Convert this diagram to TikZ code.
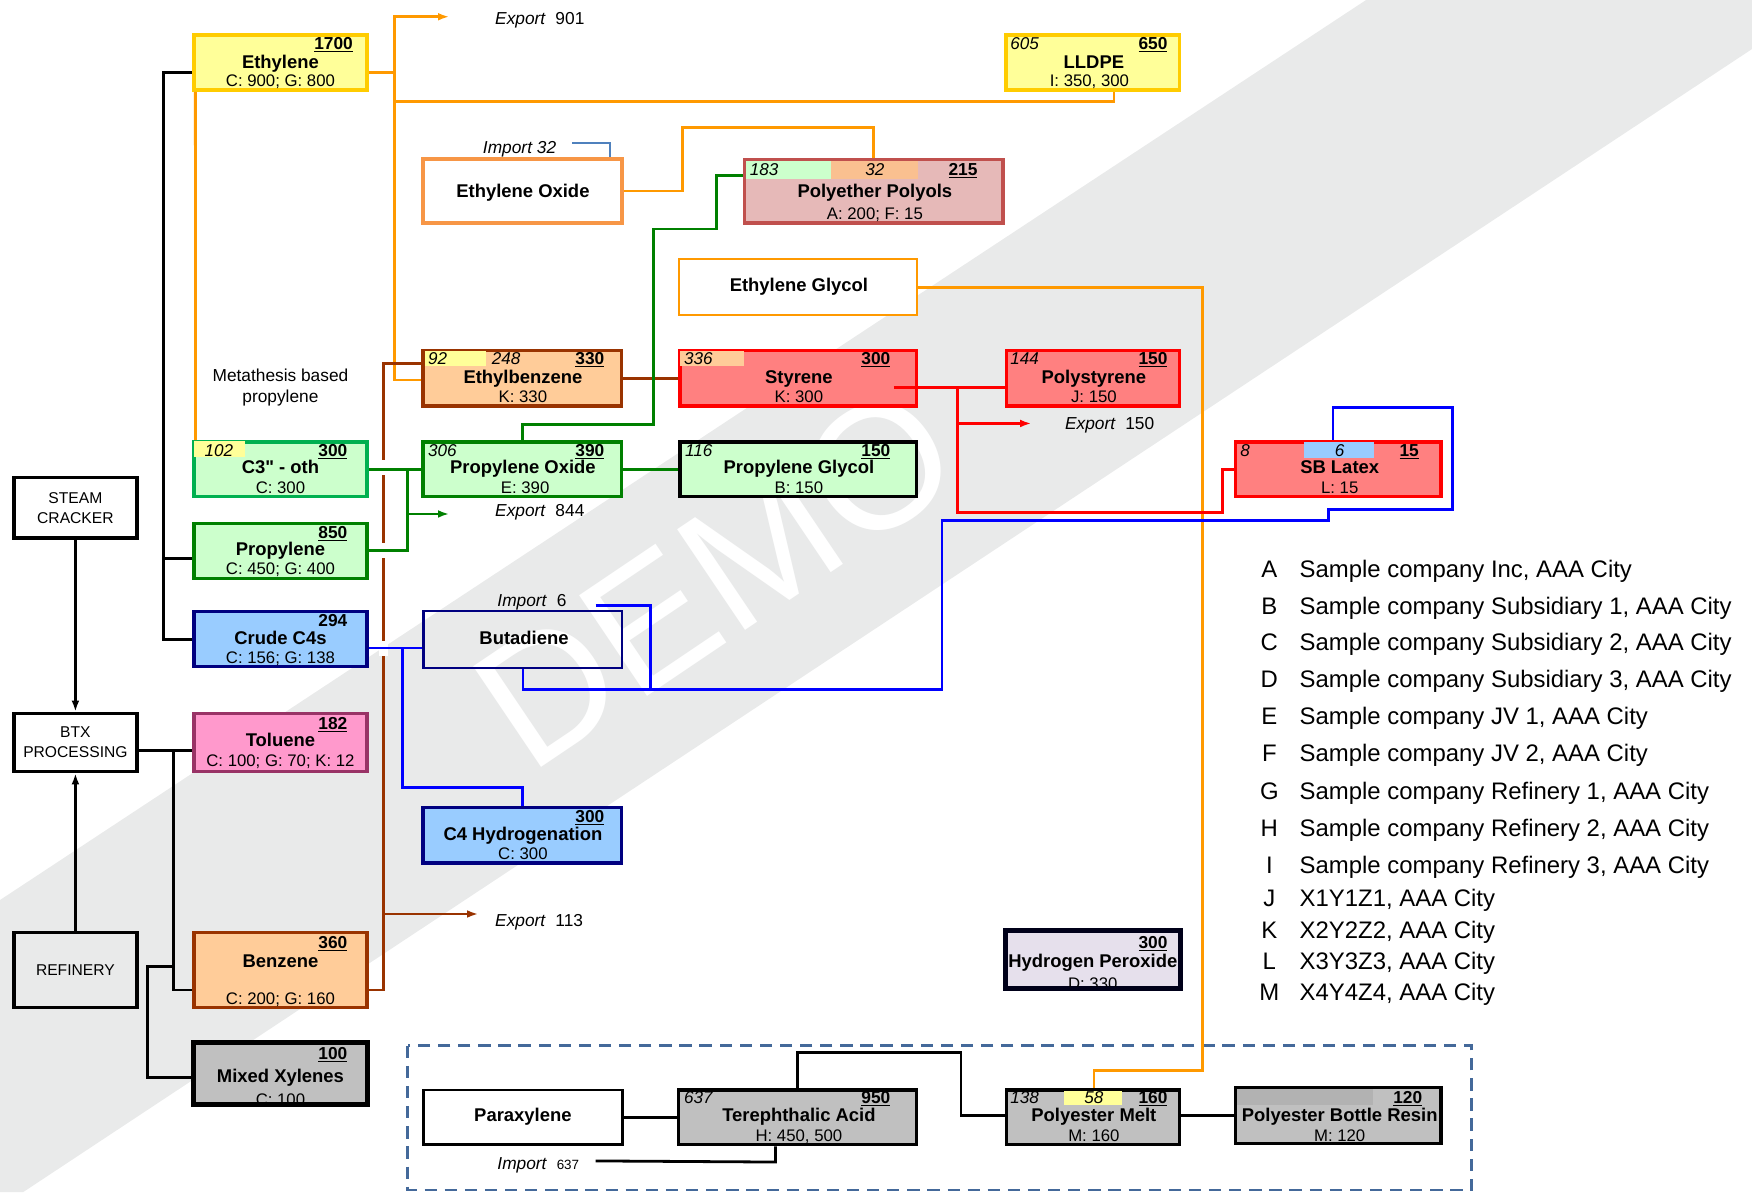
\documentclass[tikz,border=0pt]{standalone}
\usepackage{fontspec}
\setmainfont{Liberation Sans}
\usetikzlibrary{arrows.meta,calc}
\definecolor{cYel}{HTML}{FFFF99}
\definecolor{cGold}{HTML}{FFCC00}
\definecolor{cOrg}{HTML}{FF9900}
\definecolor{cEO}{HTML}{F79646}
\definecolor{cPPf}{HTML}{E6B9B8}
\definecolor{cPPb}{HTML}{C0504D}
\definecolor{cGrnF}{HTML}{CCFFCC}
\definecolor{cGrn}{HTML}{008000}
\definecolor{cGrnL}{HTML}{00B050}
\definecolor{cPeach}{HTML}{FFCC99}
\definecolor{cPeachB}{HTML}{FAC090}
\definecolor{cBrn}{HTML}{993300}
\definecolor{cSal}{HTML}{FF8080}
\definecolor{cRed}{HTML}{FF0000}
\definecolor{cBluF}{HTML}{99CCFF}
\definecolor{cNavy}{HTML}{000080}
\definecolor{cBlu}{HTML}{0000FF}
\definecolor{cPink}{HTML}{FF99CC}
\definecolor{cPinkB}{HTML}{993366}
\definecolor{cGray}{HTML}{C0C0C0}
\definecolor{cGrayB}{HTML}{B2B2B2}
\definecolor{cLav}{HTML}{E6E0EC}
\definecolor{cBand}{HTML}{E9EAEA}
\definecolor{cImp}{HTML}{4F81BD}
\definecolor{cDash}{HTML}{44699A}
\newcommand\txt[4]{\node[#1] (#2) at (#3) {#4};}
\begin{document}
\begin{tikzpicture}[x=1pt,y=-1pt,
  bx/.style={draw, line width=3pt, inner sep=0pt},
  cn/.style={line width=2.5pt},
  arr/.style={-{Latex[length=10pt,width=7pt]}},
  ttl/.style={font=\fontsize{16.5}{18}\selectfont\bfseries, inner sep=0pt, anchor=base, yshift=-5.9pt},
  sub/.style={font=\fontsize{15}{16}\selectfont, inner sep=0pt, anchor=base, yshift=-5.4pt},
  numr/.style={font=\fontsize{15.5}{17}\selectfont\bfseries, inner sep=0pt, anchor=base east, yshift=-5.5pt},
  numl/.style={font=\fontsize{15.3}{17}\selectfont\itshape, inner sep=0pt, anchor=base west, yshift=-5.5pt},
  numc/.style={font=\fontsize{15.3}{17}\selectfont\itshape, inner sep=0pt, anchor=base, yshift=-5.5pt},
  lbl/.style={font=\fontsize{15.5}{17}\selectfont, inner sep=0pt, anchor=base west, yshift=-5.5pt},
  src/.style={draw, line width=3pt, inner sep=0pt, align=center, font=\fontsize{14}{18}\selectfont},
  leg/.style={font=\fontsize{21.4}{24}\selectfont, inner sep=0pt, anchor=base, yshift=-7.6pt}
]
\useasboundingbox (0,0) rectangle (1568,1067);
% watermark
\fill[cBand] (0,805.5) -- (1222.6,0) -- (1568,0) -- (1568,43.9) -- (20.6,1067) -- (0,1067) -- cycle;
\node[text=white, font=\fontsize{158}{160}\selectfont, rotate=34, inner sep=0pt, anchor=base west] (demo) at (474,694) {DEMO};

% dashed frame
\draw[cDash, line width=2.5pt, dash pattern=on 11pt off 7pt] (365,936) rectangle (1317,1065);

% ---------------- boxes ----------------
\node[bx, draw=cGold, fill=cYel, line width=3.3pt, minimum width=155, minimum height=49] (eth) at (251,56) {};
\node[bx, draw=cGold, fill=cYel, line width=3.3pt, minimum width=155, minimum height=49] (lldpe) at (978,56) {};
\node[bx, draw=cEO, fill=white, line width=3.5pt, minimum width=178, minimum height=57] (eo) at (467.5,171) {};
\node[bx, draw=cPPb, fill=cPPf, minimum width=231, minimum height=57] (pp) at (782,171) {};
\node[bx, draw=cOrg, fill=white, line width=2pt, minimum width=213, minimum height=50] (eg) at (714.5,257) {};
\node[bx, draw=cBrn, fill=cPeach, minimum width=178, minimum height=50] (eb) at (467.5,338.5) {};
\node[bx, draw=cRed, fill=cSal, minimum width=212, minimum height=50] (sty) at (714.5,338.5) {};
\node[bx, draw=cRed, fill=cSal, minimum width=155, minimum height=50] (ps) at (978,338.5) {};
\node[bx, draw=cGrnL, fill=cGrnF, minimum width=155, minimum height=49] (c3) at (251,420) {};
\node[bx, draw=cGrn, fill=cGrnF, minimum width=178, minimum height=49] (po) at (467.5,420) {};
\node[bx, draw=black, fill=cGrnF, minimum width=212, minimum height=49] (pg) at (714.5,420) {};
\node[bx, draw=cRed, fill=cSal, minimum width=184, minimum height=49] (sbl) at (1197.5,420) {};
\node[bx, draw=cGrn, fill=cGrnF, minimum width=155, minimum height=49] (prop) at (251,493) {};
\node[bx, draw=cNavy, fill=cBluF, minimum width=155, minimum height=49] (c4s) at (251,572) {};
\node[bx, draw=cNavy, line width=2pt, minimum width=178, minimum height=51] (bd) at (468,572.5) {};
\node[bx, draw=cNavy, fill=cBluF, minimum width=178, minimum height=50] (c4h) at (467.5,747.5) {};
\node[bx, draw=cPinkB, fill=cPink, minimum width=155, minimum height=52] (tol) at (251,664.5) {};
\node[bx, draw=cBrn, fill=cPeach, minimum width=155, minimum height=67] (benz) at (251,868) {};
\node[bx, draw=black, fill=cGray, minimum width=155, minimum height=54] (mx) at (251,960.5) {};
\node[bx, draw=black!80!cNavy, fill=cLav, minimum width=155, minimum height=50] (hp) at (978,858.5) {};
\node[bx, draw=black, fill=white, line width=2.5pt, minimum width=178, minimum height=49] (px) at (468,1000) {};
\node[bx, draw=black, fill=cGray, minimum width=213, minimum height=49] (ta) at (714,1000) {};
\node[bx, draw=black, fill=cGray, minimum width=155, minimum height=49] (pm) at (978,1000) {};
\node[bx, draw=black, fill=cGray, minimum width=184, minimum height=50] (pbr) at (1197.5,998.5) {};
\node[src, fill=white, minimum width=110, minimum height=54] (steam) at (67.5,454.5) {STEAM\\CRACKER};
\node[src, fill=white, minimum width=110, minimum height=52] (btx) at (67.5,664.5) {BTX\\PROCESSING};
\node[src, minimum width=110, minimum height=67] (ref) at (67.5,868) {REFINERY};

% ---------------- strips ----------------
\fill[cYel] (174,395) rectangle (219,409);
\fill[cYel] (380,314) rectangle (435,328);
\fill[cPeach] (609,314) rectangle (666,328);
\fill[cGrnF] (668,144) rectangle (744,160);
\fill[cPeachB] (744,144) rectangle (822,160);
\fill[cBluF] (1167,396) rectangle (1230,410);
\fill[cYel] (952,976) rectangle (1004,989);
\fill[cGrayB] (1107,975) rectangle (1229,989);

% ---------------- connectors ----------------
% black (sources)
\coordinate (bk1) at (146,65);
\coordinate (bk2) at (146,500);
\draw[cn] (eth.west |- bk1) -- (bk1) |- (c4s.west);
\draw[cn] (bk2) -- (bk2 -| prop.west);
\draw[cn, arr] (steam.south) -- (btx.north);
\draw[cn, arr] (ref.north) -- (btx.south);
\coordinate (bt1) at (155,672);
\coordinate (bt2) at (155,886);
\draw[cn] (btx.east |- bt1) -- (tol.west |- bt1);
\draw[cn] (bt1) -- (bt2) -- (bt2 -| benz.west);
\coordinate (rf1) at (132,865);
\coordinate (rf2) at (132,964);
\draw[cn] (rf1 -| bt1) -- (rf1) -- (rf2) -- (rf2 -| mx.west);
% orange
\coordinate (o1) at (353,65);
\coordinate (o2) at (353,340);
\coordinate (o3) at (353,15);
\coordinate (o4) at (402,15);
\draw[cn, cOrg] (eth.east |- o1) -- (o1);
\draw[cn, cOrg, arr] (o2 -| eb.west) -- (o2) -- (o3) -- (o4);
\coordinate (o5) at (353,91);
\coordinate (o6) at (997,91);
\draw[cn, cOrg] (o5) -- (o6) -- (o6 |- lldpe.south);
\draw[cn, cOrg] ($(eth.south west)+(3,0)$) -- ($(c3.north west)+(3,0)$);
\coordinate (o7) at (611,114);
\draw[cn, cOrg] (eo.east) -| (o7) -| (pp.north);
\coordinate (o8) at (1076,958);
\draw[cn, cOrg] (eg.east) -| (o8) -| ($(pm.north)+(1,0)$);
% brown
\coordinate (b1) at (343,325);
\coordinate (b2) at (343,886);
\draw[cn, cBrn] (b1 -| eb.west) -- (b1) -- (b2) -- (b2 -| benz.east);
\draw[cn, cBrn] (eb.east) -- (sty.west);
\coordinate (b3) at (343,818);
\coordinate (b4) at (428,818);
\draw[cn, cBrn, arr] (b3) -- (b4);
\fill[white] (339,412) rectangle (347,425);
\fill[white] (339,486) rectangle (347,499);
\fill[white] (339,574) rectangle (347,587);
% green
\draw[cn, cGrn] (c3.east) -- (po.west);
\coordinate (g1) at (365,420);
\coordinate (g2) at (365,493);
\draw[cn, cGrn] (prop.east) -- (g2) -- (g1);
\coordinate (g3) at (365,460);
\coordinate (g4) at (402,460);
\draw[cn, cGrn, arr] (g3) -- (g4);
\draw[cn, cGrn] (po.east) -- (pg.west);
\coordinate (g5) at (467.5,380);
\coordinate (g6) at (585,380);
\coordinate (g7) at (585,205);
\coordinate (g8) at (641,205);
\coordinate (g9) at (641,157);
\draw[cn, cGrn] (po.north) -- (g5) -- (g6) -- (g7) -- (g8) -- (g9) -- (g9 -| pp.west);
% red
\coordinate (r0) at (800,347);
\draw[cn, cRed] (r0) -- (r0 -| ps.west);
\coordinate (r1) at (857,347);
\coordinate (r2) at (857,459);
\coordinate (r3) at (1094,459);
\coordinate (r4) at (1094,420);
\draw[cn, cRed] (r1) -- (r2) -- (r3) -- (r4) -- (sbl.west);
\coordinate (r5) at (857,379);
\coordinate (r6) at (923,379);
\draw[cn, cRed, arr] (r5) -- (r6);
% blue
\coordinate (u1) at (360,580);
\draw[cn, cBlu] (c4s.east |- u1) -- (u1 -| bd.west);
\coordinate (u2) at (360,705);
\coordinate (u3) at (467.5,705);
\draw[cn, cBlu] (u1) -- (u2) -- (u3) -- (c4h.north);
\coordinate (u4) at (468,617);
\coordinate (u5) at (843,617);
\coordinate (u6) at (843,466);
\coordinate (u7) at (1189,466);
\coordinate (u8) at (1189,456);
\coordinate (u9) at (1300,456);
\coordinate (u10) at (1300,365);
\coordinate (u11) at (1193,365);
\draw[cn, cBlu] (bd.south) -- (u4) -- (u5) -- (u6) -- (u7) -- (u8) -- (u9) -- (u10) -- (u11) -- (u11 |- sbl.north);
\coordinate (u12) at (533,542);
\coordinate (u13) at (582,542);
\coordinate (u14) at (582,617);
\draw[cn, cBlu] (u12) -- (u13) -- (u14);
\coordinate (i1) at (512,128);
\coordinate (i2) at (546,128);
\draw[line width=1.3pt, cImp] (i1) -- (i2) -- (i2 |- eo.north);
% black (bottom)
\draw[cn] (px.east) -- (ta.west);
\coordinate (k1) at (533,1039);
\coordinate (k2) at (694,1040);
\draw[cn] (k1) -- (k2) -- (k2 |- ta.south);
\coordinate (k3) at (714,942);
\coordinate (k4) at (860,942);
\coordinate (k5) at (860,998);
\draw[cn] (ta.north) -- (k3) -- (k4) -- (k5) -- (k5 -| pm.west);
\draw[cn] (pm.east |- k5) -- (k5 -| pbr.west);

% ---------------- texts ----------------
\txt{numr}{eth-n}{316,39}{\underline{1700}}
\txt{ttl}{eth-t}{251,55}{Ethylene}
\txt{sub}{eth-s}{251,72}{C: 900; G: 800}

\txt{numl}{ll-l}{904,39}{605}
\txt{numr}{ll-n}{1045,39}{\underline{650}}
\txt{ttl}{ll-t}{979,55}{LLDPE}
\txt{sub}{ll-s}{975,72}{I: 350, 300}

\txt{ttl}{eo-t}{468,171}{Ethylene Oxide}
\node[font=\fontsize{15.5}{17}\selectfont\itshape, inner sep=0pt, anchor=base, yshift=-5.5pt] (imp32) at (465,132) {Import 32};

\txt{numl}{pp-l}{671,152}{183}
\txt{numc}{pp-c}{783,152}{32}
\txt{numr}{pp-n}{875,152}{\underline{215}}
\txt{ttl}{pp-t}{783,171}{Polyether Polyols}
\txt{sub}{pp-s}{783,191}{A: 200; F: 15}

\txt{ttl}{eg-t}{715,255}{Ethylene Glycol}

\txt{numl}{eb-l}{383,321}{92}
\txt{numc}{eb-c}{453,321}{248}
\txt{numr}{eb-n}{541,321}{\underline{330}}
\txt{ttl}{eb-t}{468,337}{Ethylbenzene}
\txt{sub}{eb-s}{468,355}{K: 330}

\txt{numl}{sty-l}{612,321}{336}
\txt{numr}{sty-n}{797,321}{\underline{300}}
\txt{ttl}{sty-t}{715,337}{Styrene}
\txt{sub}{sty-s}{715,355}{K: 300}

\txt{numl}{ps-l}{904,321}{144}
\txt{numr}{ps-n}{1045,321}{\underline{150}}
\txt{ttl}{ps-t}{979,337}{Polystyrene}
\txt{sub}{ps-s}{979,355}{J: 150}

\node[font=\fontsize{15.5}{19}\selectfont, align=center, inner sep=0pt] (meta) at (251,347) {Metathesis based\\propylene};

\txt{numl}{c3-l}{183,403}{102}
\txt{numr}{c3-n}{311,403}{\underline{300}}
\txt{ttl}{c3-t}{251,418}{C3\textquotedbl{} - oth}
\txt{sub}{c3-s}{251,436}{C: 300}

\txt{numl}{po-l}{383,403}{306}
\txt{numr}{po-n}{541,403}{\underline{390}}
\txt{ttl}{po-t}{468,418}{Propylene Oxide}
\txt{sub}{po-s}{470,436}{E: 390}

\txt{numl}{pg-l}{613,403}{116}
\txt{numr}{pg-n}{797,403}{\underline{150}}
\txt{ttl}{pg-t}{715,418}{Propylene Glycol}
\txt{sub}{pg-s}{715,436}{B: 150}

\txt{numl}{sbl-l}{1110,403}{8}
\txt{numc}{sbl-c}{1199,403}{6}
\txt{numr}{sbl-n}{1270,403}{\underline{15}}
\txt{ttl}{sbl-t}{1199,418}{SB Latex}
\txt{sub}{sbl-s}{1199,436}{L: 15}

\txt{numr}{pr-n}{311,476}{\underline{850}}
\txt{ttl}{pr-t}{251,491}{Propylene}
\txt{sub}{pr-s}{251,509}{C: 450; G: 400}

\txt{numr}{c4-n}{311,555}{294}
\txt{ttl}{c4-t}{251,571}{Crude C4s}
\txt{sub}{c4-s}{251,588}{C: 156; G: 138}

\txt{ttl}{bd-t}{469,571}{Butadiene}

\txt{numr}{c4h-n}{541,731}{\underline{300}}
\txt{ttl}{c4h-t}{468,746}{C4 Hydrogenation}
\txt{sub}{c4h-s}{468,764}{C: 300}

\txt{numr}{tol-n}{311,647}{\underline{182}}
\txt{ttl}{tol-t}{251,662}{Toluene}
\txt{sub}{tol-s}{251,681}{C: 100; G: 70; K: 12}

\txt{numr}{bz-n}{311,843}{\underline{360}}
\txt{ttl}{bz-t}{251,860}{Benzene}
\txt{sub}{bz-s}{251,894}{C: 200; G: 160}

\txt{numr}{mx-n}{311,943}{\underline{100}}
\txt{ttl}{mx-t}{251,963}{Mixed Xylenes}
\txt{sub}{mx-s}{251,984}{C: 100}
\draw[line width=3pt] (mx.south west) rectangle (mx.north east);

\txt{numr}{hp-n}{1045,843}{\underline{300}}
\txt{ttl}{hp-t}{978,860}{Hydrogen Peroxide}
\txt{sub}{hp-s}{978,880}{D: 330}
\draw[line width=3pt, black!80!cNavy] (hp.south west) rectangle (hp.north east);

\txt{ttl}{px-t}{468,998}{Paraxylene}
\node[lbl] (imp637) at (445,1041) {\textit{Import}\ \ {\fontsize{12}{14}\selectfont 637}};

\txt{numl}{ta-l}{612,982}{637}
\txt{numr}{ta-n}{797,982}{\underline{950}}
\txt{ttl}{ta-t}{715,998}{Terephthalic Acid}
\txt{sub}{ta-s}{715,1016}{H: 450, 500}

\txt{numl}{pm-l}{904,982}{138}
\txt{numc}{pm-c}{979,982}{58}
\txt{numr}{pm-n}{1045,982}{\underline{160}}
\txt{ttl}{pm-t}{979,998}{Polyester Melt}
\txt{sub}{pm-s}{979,1016}{M: 160}

\txt{numr}{pbr-n}{1273,982}{\underline{120}}
\txt{ttl}{pbr-t}{1199,998}{Polyester Bottle Resin}
\txt{sub}{pbr-s}{1199,1016}{M: 120}

% exports / imports
\node[lbl] (exp901) at (443,16) {\textit{Export}\ \ 901};
\node[lbl] (exp844) at (443,457) {\textit{Export}\ \ 844};
\node[lbl] (exp113) at (443,824) {\textit{Export}\ \ 113};
\node[lbl] (exp150) at (953,379) {\textit{Export}\ \ 150};
\node[lbl] (imp6) at (445,537) {\textit{Import}\ \ 6};

% legend
\foreach \l/\t/\y [count=\i] in {A/Sample company Inc{,} AAA City/509, B/Sample company Subsidiary 1{,} AAA City/542, C/Sample company Subsidiary 2{,} AAA City/575, D/Sample company Subsidiary 3{,} AAA City/608, E/Sample company JV 1{,} AAA City/641, F/Sample company JV 2{,} AAA City/674, G/Sample company Refinery 1{,} AAA City/708, H/Sample company Refinery 2{,} AAA City/741, I/Sample company Refinery 3{,} AAA City/774, J/X1Y1Z1{,} AAA City/804, K/X2Y2Z2{,} AAA City/832, L/X3Y3Z3{,} AAA City/860, M/X4Y4Z4{,} AAA City/888}{
  \node[leg] (legk\i) at (1136,\y) {\l};
  \node[leg, anchor=base west] (legt\i) at (1163,\y) {\t};
}
\end{tikzpicture}
\end{document}
